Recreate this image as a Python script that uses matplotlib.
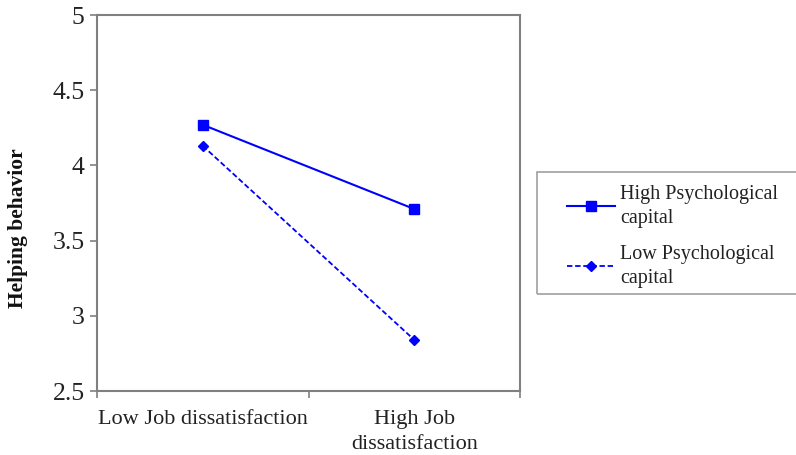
import matplotlib.pyplot as plt
from matplotlib.patches import Rectangle

plt.rcParams['font.family'] = ['Liberation Serif', 'DejaVu Serif']

categories = ['Low Job dissatisfaction', 'High Job\ndissatisfaction']
high_psycap = [4.27, 3.71]
low_psycap = [4.13, 2.84]
y_ticks = [2.5, 3, 3.5, 4, 4.5, 5]
y_tick_labels = ['2.5', '3', '3.5', '4', '4.5', '5']

W, H = 796, 455
fig = plt.figure(figsize=(W / 100, H / 100), dpi=100)
ax = fig.add_axes([97 / W, 64 / H, 423 / W, 376 / H])

x = [0.5, 1.5]
ax.plot(x, high_psycap, color='#0000ff', linestyle='-', linewidth=1.5,
        marker='s', markersize=7, label='High Psychological\ncapital')
ax.plot(x, low_psycap, color='#0000ff', linestyle=(0, (3, 1.5)), linewidth=1.3,
        marker='D', markersize=5, label='Low Psychological\ncapital')

ax.set_xlim(0, 2)
ax.set_ylim(2.5, 5)
ax.set_yticks(y_ticks)
ax.set_yticklabels(y_tick_labels, fontsize=18.5, color='#222222')
ax.set_xticks([0, 1, 2])
ax.set_xticklabels(['', '', ''])
ax.set_xticks(x, minor=True)
ax.set_xticklabels(categories, minor=True, fontsize=16, color='#222222')
for t in ax.get_xticklabels(minor=True):
    t.set_linespacing(1.4)
ax.tick_params(axis='x', which='minor', length=0, pad=14)
ax.tick_params(axis='both', which='major', length=5, color='#808080', width=1.2)
ax.tick_params(axis='y', pad=4)

for s in ax.spines.values():
    s.set_color('#808080')
    s.set_linewidth(1.5)

ax.set_ylabel('Helping behavior', fontsize=15.5, fontweight='bold', color='#111111')
ax.yaxis.set_label_coords(-0.163, 0.434)

# legend frame drawn by hand (it runs off the right edge)
fig.patches.append(Rectangle((537 / W, (H - 294) / H), 270 / W, 122 / H,
                             transform=fig.transFigure, facecolor='none',
                             edgecolor='#a0a0a0', linewidth=1.2))

leg = fig.legend(loc='upper left', bbox_to_anchor=(567 / W, (H - 185) / H),
                 fontsize=14.5, frameon=False, handlelength=2.4,
                 labelspacing=0.85, borderpad=0, handletextpad=0.25,
                 borderaxespad=0)
for t in leg.get_texts():
    t.set_linespacing(1.35)
    t.set_color('#222222')

fig.savefig('out.png', dpi=100)
